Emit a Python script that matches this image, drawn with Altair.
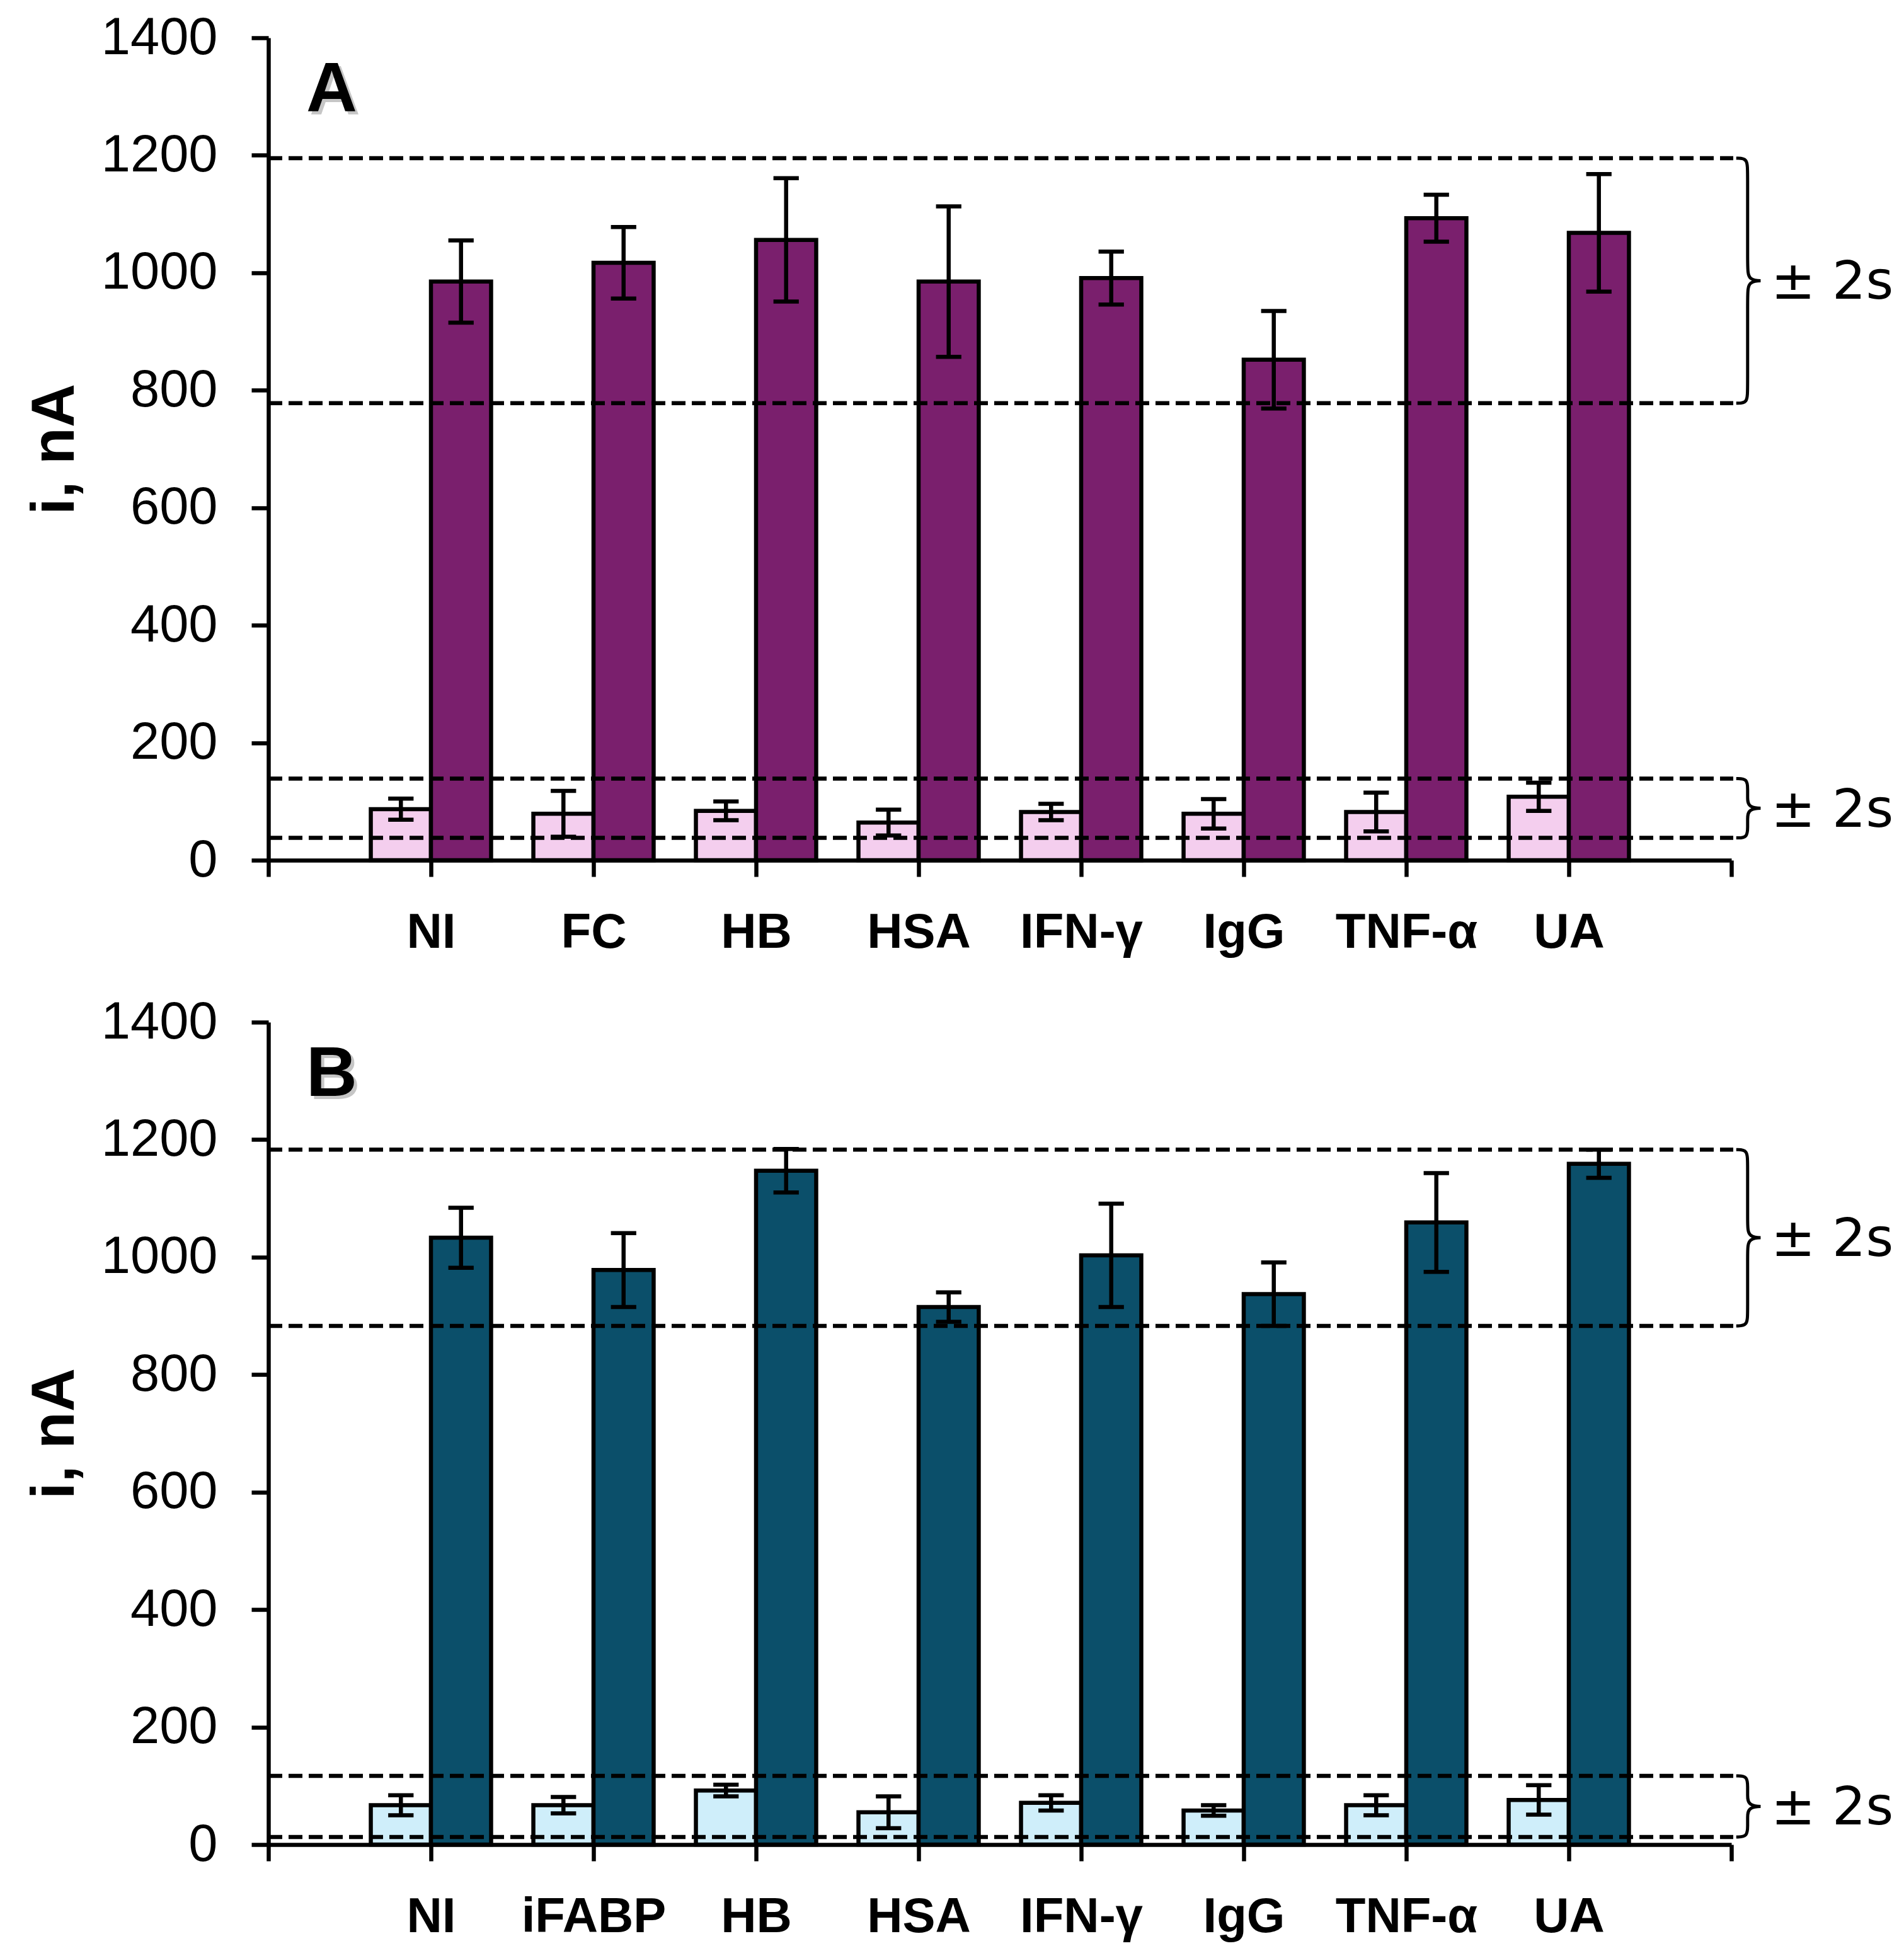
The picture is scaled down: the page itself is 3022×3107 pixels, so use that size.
import json

import altair as alt
import pandas as pd

# values (nA)
CATS_A = ["NI", "FC", "HB", "HSA", "IFN-γ", "IgG", "TNF-α", "UA"]
BLANK_A = [87, 79, 84, 64, 82, 79, 82, 108]
BLANK_A_ERR = [18, 39, 16, 22, 14, 25, 33, 24]
SAMPLE_A = [985, 1017, 1056, 985, 991, 852, 1093, 1068]
SAMPLE_A_ERR = [70, 61, 105, 128, 45, 83, 40, 100]
LIMITS_A = [(778, 1195), (38, 139)]

CATS_B = ["NI", "iFABP", "HB", "HSA", "IFN-γ", "IgG", "TNF-α", "UA"]
BLANK_B = [67, 67, 92, 55, 71, 58, 67, 76]
BLANK_B_ERR = [17, 14, 10, 27, 13, 9, 17, 25]
SAMPLE_B = [1033, 978, 1147, 915, 1003, 937, 1059, 1159]
SAMPLE_B_ERR = [51, 63, 37, 25, 88, 54, 84, 24]
LIMITS_B = [(883, 1183), (13, 117)]

W = 2322
H = 1305
BAR_W = 0.37
CAP = 0.078
LW = 6.5
FONT = "Liberation Sans"


def brace_df(lo, hi):
    """Control points of a curly brace spanning [lo, hi]."""
    mid = (lo + hi) / 2
    r = min(24, (hi - lo) / 5)
    pts = [
        (9.03, hi), (9.10, hi), (9.10, hi - r), (9.10, mid + r), (9.10, mid),
        (9.22, mid),
        (9.10, mid), (9.10, mid - r), (9.10, lo + r), (9.10, lo), (9.03, lo),
    ]
    return pd.DataFrame([{"i": k, "bx": x, "by": y} for k, (x, y) in enumerate(pts)])


def panel(cats, blank, blank_err, sample, sample_err, limits, letter, light, dark):
    rows = []
    for i, c in enumerate(cats):
        rows.append({"pos": i + 1, "series": "blank", "value": blank[i], "err": blank_err[i]})
        rows.append({"pos": i + 1, "series": "sample", "value": sample[i], "err": sample_err[i]})
    df = pd.DataFrame(rows)

    labels = [""] + cats + [""]
    x_scale = alt.Scale(domain=[0, 9], nice=False, zero=False)
    y_scale = alt.Scale(domain=[0, 1400], nice=False)
    x_axis = alt.Axis(
        values=list(range(10)),
        labelExpr=json.dumps(labels, ensure_ascii=False) + "[datum.value]",
        title=None,
        grid=False,
        tickSize=26,
        tickWidth=LW,
        tickColor="black",
        domainWidth=LW,
        domainColor="black",
        labelFont=FONT,
        labelFontSize=78,
        labelFontWeight="bold",
        labelColor="black",
        labelPadding=50,
        labelLimit=0,
    )
    y_axis = alt.Axis(
        values=list(range(0, 1401, 200)),
        format="d",
        title="i, nA",
        grid=False,
        tickSize=27,
        tickWidth=LW,
        tickColor="black",
        domainWidth=LW,
        domainColor="black",
        labelFont=FONT,
        labelFontSize=83,
        labelColor="black",
        labelPadding=54,
        labelLimit=0,
        titleFont=FONT,
        titleFontSize=96,
        titleFontWeight="bold",
        titleColor="black",
        titlePadding=90,
    )

    def X(field):
        return alt.X(field, type="quantitative", scale=x_scale, axis=x_axis)

    def Y(field):
        return alt.Y(field, type="quantitative", scale=y_scale, axis=y_axis)

    base = alt.Chart(df).transform_calculate(
        x0=f"datum.pos + (datum.series == 'blank' ? -{BAR_W} : 0)",
        x1=f"datum.pos + (datum.series == 'blank' ? 0 : {BAR_W})",
        xc=f"datum.pos + (datum.series == 'blank' ? -1 : 1) * {BAR_W / 2}",
        lo="datum.value - datum.err",
        hi="datum.value + datum.err",
    )

    bars = base.mark_bar(stroke="black", strokeWidth=LW).encode(
        x=X("x0"),
        x2="x1:Q",
        y=Y("value"),
        y2=alt.datum(0),
        color=alt.Color(
            "series:N",
            scale=alt.Scale(domain=["blank", "sample"], range=[light, dark]),
            legend=None,
        ),
    )

    lim_df = pd.DataFrame({"lim": [v for pair in limits for v in pair]})
    dashed = alt.Chart(lim_df).mark_rule(
        color="black", strokeWidth=LW, strokeDash=[22, 10]
    ).encode(y=Y("lim"), x=alt.value(0), x2=alt.value(W + 3))

    err = base.mark_rule(color="black", strokeWidth=LW).encode(
        x=X("xc"), y=Y("lo"), y2="hi:Q",
    )
    caps = base.transform_fold(["lo", "hi"], as_=["cap", "capv"]).transform_calculate(
        ca=f"datum.xc - {CAP}", cb=f"datum.xc + {CAP}"
    ).mark_rule(color="black", strokeWidth=LW).encode(
        x=X("ca"), x2="cb:Q", y=Y("capv"),
    )

    layers = [bars, dashed, err, caps]
    for lo, hi in limits:
        layers.append(
            alt.Chart(brace_df(lo, hi)).mark_line(
                color="black", strokeWidth=5, interpolate="basis"
            ).encode(x=X("bx"), y=Y("by"), order="i:Q")
        )
        layers.append(
            alt.Chart(pd.DataFrame({"mid": [(lo + hi) / 2], "t": ["± 2s"]})).mark_text(
                align="left", baseline="middle", font="DejaVu Sans", fontSize=84,
                color="black", dy=4,
            ).encode(x=alt.value(W + 63), y=Y("mid"), text="t:N")
        )

    letter_df = pd.DataFrame({"t": [letter]})
    shadow = alt.Chart(letter_df).mark_text(
        align="left", baseline="alphabetic", font=FONT, fontSize=112, fontWeight="bold",
        color="#999999", opacity=0.55, dx=5, dy=5,
    ).encode(x=alt.value(60), y=alt.value(117), text="t:N")
    label = alt.Chart(letter_df).mark_text(
        align="left", baseline="alphabetic", font=FONT, fontSize=112, fontWeight="bold",
        color="black",
    ).encode(x=alt.value(60), y=alt.value(117), text="t:N")
    layers += [shadow, label]

    return alt.layer(*layers).properties(
        width=W, height=H, view=alt.ViewBackground(stroke="transparent")
    )


top = panel(CATS_A, BLANK_A, BLANK_A_ERR, SAMPLE_A, SAMPLE_A_ERR, LIMITS_A, "A",
            "#F4CEEE", "#7A1F6D")
bottom = panel(CATS_B, BLANK_B, BLANK_B_ERR, SAMPLE_B, SAMPLE_B_ERR, LIMITS_B, "B",
               "#CFEEFA", "#0B4F6A")

chart = alt.vconcat(top, bottom, spacing=60).resolve_scale(
    color="independent"
).properties(
    padding={"left": 30, "top": 10, "right": 5, "bottom": 5}
).configure_view(stroke="transparent", strokeWidth=0).configure(background="white")

chart.save("out.html", embed_options={"renderer": "svg", "actions": False})
